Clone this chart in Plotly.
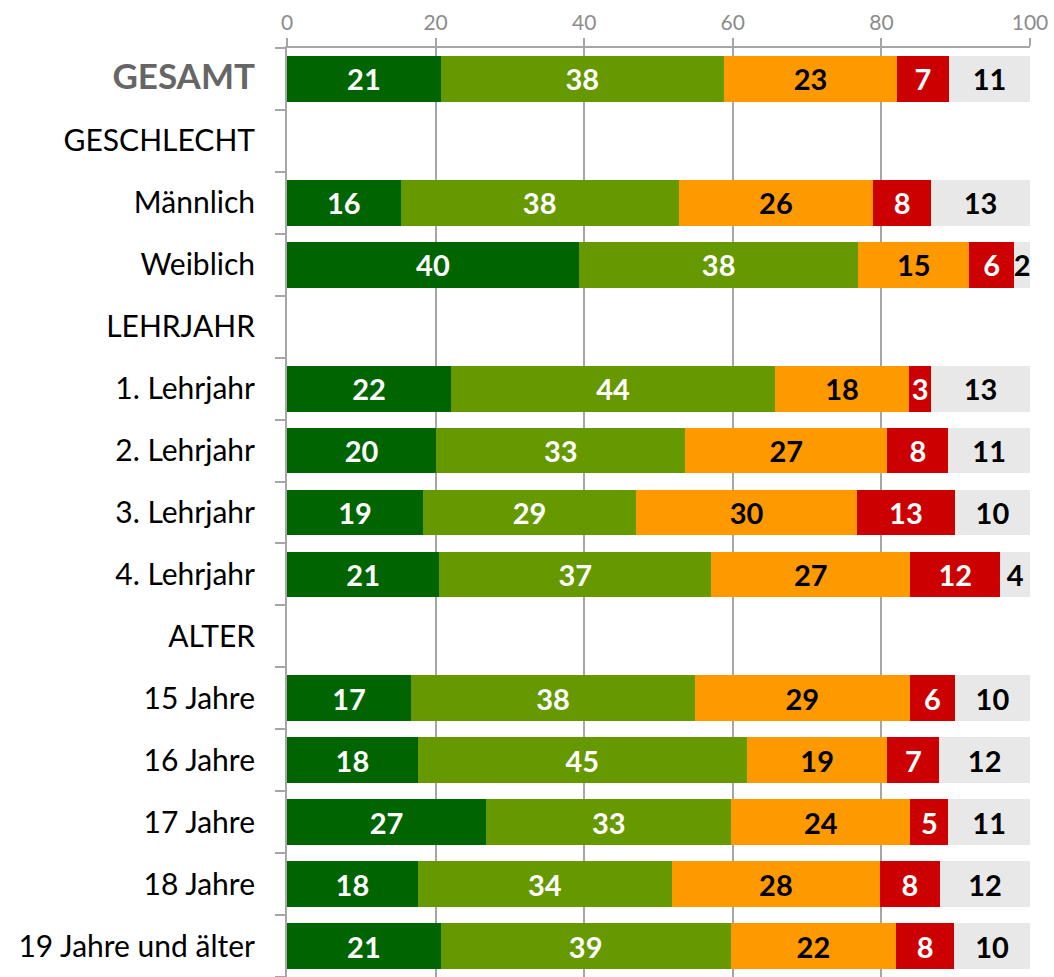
import plotly.graph_objects as go

categories = ["GESAMT", "GESCHLECHT", "Männlich", "Weiblich", "LEHRJAHR",
              "1. Lehrjahr", "2. Lehrjahr", "3. Lehrjahr", "4. Lehrjahr", "ALTER",
              "15 Jahre", "16 Jahre", "17 Jahre", "18 Jahre", "19 Jahre und älter"]

# bar lengths
s1 = [20.7, None, 15.3, 39.3, None, 22.1, 20.1, 18.3, 20.5, None, 16.7, 17.6, 26.8, 17.6, 20.7]
s2 = [38.1, None, 37.4, 37.6, None, 43.6, 33.5, 28.7, 36.6, None, 38.2, 44.3, 33.0, 34.2, 39.0]
s3 = [23.3, None, 26.2, 14.9, None, 18.0, 27.2, 29.7, 26.8, None, 28.9, 18.9, 24.1, 28.0, 22.3]
s4 = [7.0, None, 7.8, 6.1, None, 3.0, 8.2, 13.2, 12.1, None, 6.1, 7.0, 5.1, 8.1, 7.8]
s5 = [10.9, None, 13.3, 2.1, None, 13.3, 11.0, 10.1, 4.0, None, 10.1, 12.2, 11.0, 12.1, 10.2]

# printed labels
l1 = ["21", "", "16", "40", "", "22", "20", "19", "21", "", "17", "18", "27", "18", "21"]
l2 = ["38", "", "38", "38", "", "44", "33", "29", "37", "", "38", "45", "33", "34", "39"]
l3 = ["23", "", "26", "15", "", "18", "27", "30", "27", "", "29", "19", "24", "28", "22"]
l4 = ["7", "", "8", "6", "", "3", "8", "13", "12", "", "6", "7", "5", "8", "8"]
l5 = ["11", "", "13", "2", "", "13", "11", "10", "4", "", "10", "12", "11", "12", "10"]

x_ticks = [0, 20, 40, 60, 80, 100]

colors = ["#006400", "#669900", "#FF9900", "#CC0000", "#E8E8E8"]
text_colors = ["white", "white", "black", "white", "black"]

FONT = "Lato, 'Open Sans', sans-serif"

fig = go.Figure()
for vals, labs, col, tcol in zip([s1, s2, s3, s4, s5], [l1, l2, l3, l4, l5], colors, text_colors):
    fig.add_trace(go.Bar(
        y=categories, x=vals, orientation="h",
        marker=dict(color=col, line=dict(width=0)),
        text=labs, textposition="inside", insidetextanchor="middle",
        textangle=0, cliponaxis=False,
        insidetextfont=dict(family=FONT, size=29, color=tcol, weight="bold"),
        hoverinfo="skip", showlegend=False,
    ))

ticktext = ["<b><span style='color:#666666;font-size:35px'>GESAMT</span></b>"] + categories[1:]

fig.update_layout(
    barmode="stack", bargap=0.26,
    width=1054, height=977,
    margin=dict(l=287, r=24, t=48, b=0, pad=0),
    plot_bgcolor="white", paper_bgcolor="white",
    uniformtext=dict(minsize=29, mode="show"),
    xaxis=dict(
        side="top", range=[0, 100], tickvals=x_ticks, ticktext=[str(v) for v in x_ticks],
        showgrid=True, gridcolor="#A6A6A6", gridwidth=2,
        showline=True, linecolor="#A6A6A6", linewidth=2,
        ticks="outside", ticklen=8, tickcolor="#A6A6A6", tickwidth=2,
        tickfont=dict(family=FONT, size=21, color="#8C8C8C"),
        zeroline=False, fixedrange=True,
    ),
    yaxis=dict(
        autorange="reversed", type="category",
        tickvals=categories, ticktext=ticktext,
        showline=True, linecolor="#A6A6A6", linewidth=2,
        ticks="outside", ticklen=10, tickcolor="#A6A6A6", tickwidth=2,
        tickson="boundaries", showgrid=False,
        ticklabelstandoff=24,
        tickfont=dict(family=FONT, size=30, color="black"),
    ),
)

fig.write_html("out.html", config={"displayModeBar": False},
               post_script="document.body.style.margin='0';")
